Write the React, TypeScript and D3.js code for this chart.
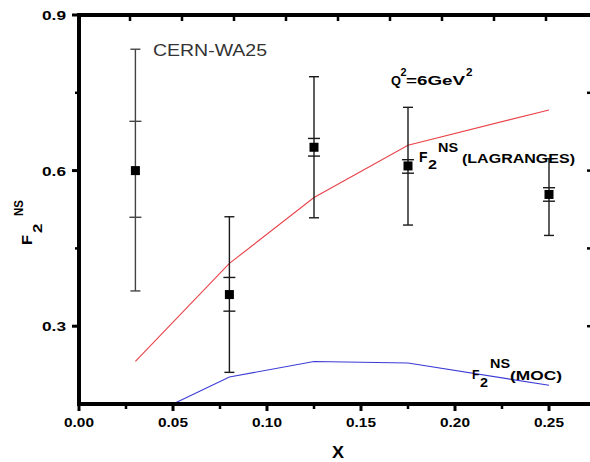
import React, { useEffect, useRef } from "react";
import * as d3 from "d3";

// measured points (CERN-WA25)
const xPoints = [0.03, 0.08, 0.125, 0.175, 0.25];
const f2Values = [0.6, 0.361, 0.645, 0.609, 0.554];
const innerHigh = [0.695, 0.394, 0.662, 0.621, 0.567];
const innerLow = [0.51, 0.329, 0.628, 0.595, 0.541];
const outerHigh = [0.834, 0.511, 0.781, 0.722, 0.623];
const outerLow = [0.368, 0.211, 0.509, 0.495, 0.475];

// model curves
const lagrangeX = [0.03, 0.08, 0.125, 0.175, 0.25];
const lagrangeValues = [0.232, 0.421, 0.548, 0.649, 0.717];
const mocX = [0.05, 0.08, 0.125, 0.175, 0.25];
const mocValues = [0.15, 0.202, 0.232, 0.229, 0.186];

// ticks
const xTickValues = [0, 0.05, 0.1, 0.15, 0.2, 0.25];
const xTickLabels = ["0.00", "0.05", "0.10", "0.15", "0.20", "0.25"];
const xMinorTicks = [0.025, 0.075, 0.125, 0.175, 0.225];
const yTickValues = [0.3, 0.6, 0.9];
const yTickLabels = ["0.3", "0.6", "0.9"];
const yMinorTicks = [0.45, 0.75];
const topTickValues = [0.025, 0.05, 0.075, 0.1, 0.125, 0.15, 0.175, 0.2, 0.225];
const rightTickValues = [0.3, 0.45, 0.6, 0.75, 0.9];

const FONT = "'Liberation Sans', Arial, sans-serif";

function App() {
  const svgRef = useRef(null);

  useEffect(() => {
    const width = 590;
    const height = 462;
    const svg = d3.select(svgRef.current).attr("width", width).attr("height", height);
    svg.selectAll("*").remove();

    svg.append("rect").attr("width", width).attr("height", height).attr("fill", "#fff");

    const x = d3.scaleLinear().domain([0, 0.25]).range([79, 549]);
    const y = d3.scaleLinear().domain([0.15, 0.9]).range([404, 15]);
    // the top frame's ticks sit on a slightly wider spacing in the original
    const xTop = d3.scaleLinear().domain([0, 0.25]).range([78, 598]);

    const g = svg.append("g");

    // Lines
    const line = d3
      .line()
      .x((d) => x(d[0]))
      .y((d) => y(d[1]));

    g.append("path")
      .datum(lagrangeX.map((v, i) => [v, lagrangeValues[i]]))
      .attr("d", line)
      .attr("fill", "none")
      .attr("stroke", "#e8434a")
      .attr("stroke-width", 1.1);

    g.append("path")
      .datum(mocX.map((v, i) => [v, mocValues[i]]))
      .attr("d", line)
      .attr("fill", "none")
      .attr("stroke", "#3b3bd6")
      .attr("stroke-width", 1.1);

    // Error bars
    const bars = g
      .selectAll("g.err")
      .data(xPoints.map((v, i) => ({ x: v, i })))
      .join("g")
      .attr("class", "err")
      .attr("stroke", (d) => (d.i === 0 ? "#444" : "#1a1a1a"))
      .attr("stroke-width", 1.4);

    bars
      .append("line")
      .attr("x1", (d) => x(d.x))
      .attr("x2", (d) => x(d.x))
      .attr("y1", (d) => y(outerLow[d.i]))
      .attr("y2", (d) => y(outerHigh[d.i]));

    const caps = [
      { arr: outerHigh, w: 5 },
      { arr: outerLow, w: 5 },
      { arr: innerHigh, w: 6 },
      { arr: innerLow, w: 6 },
    ];
    caps.forEach((c) => {
      bars
        .append("line")
        .attr("x1", (d) => x(d.x) - c.w)
        .attr("x2", (d) => x(d.x) + c.w)
        .attr("y1", (d) => y(c.arr[d.i]))
        .attr("y2", (d) => y(c.arr[d.i]));
    });

    // Squares
    g.selectAll("rect.pt")
      .data(xPoints.map((v, i) => [v, f2Values[i]]))
      .join("rect")
      .attr("class", "pt")
      .attr("x", (d) => x(d[0]) - 4.5)
      .attr("y", (d) => y(d[1]) - 4.5)
      .attr("width", 9)
      .attr("height", 9)
      .attr("fill", "#000");

    // Axes (frame + ticks)
    const axis = svg.append("g").attr("stroke", "#000");
    axis.append("line").attr("x1", 79).attr("x2", 79).attr("y1", 13).attr("y2", 406).attr("stroke-width", 4);
    axis.append("line").attr("x1", 77).attr("x2", 590).attr("y1", 404).attr("y2", 404).attr("stroke-width", 4);
    axis.append("line").attr("x1", 77).attr("x2", 590).attr("y1", 15).attr("y2", 15).attr("stroke-width", 4);

    axis.selectAll("line.ly").data(yTickValues).join("line")
      .attr("x1", 72).attr("x2", 79).attr("y1", (d) => y(d)).attr("y2", (d) => y(d)).attr("stroke-width", 3);
    axis.selectAll("line.lym").data(yMinorTicks).join("line")
      .attr("x1", 75).attr("x2", 79).attr("y1", (d) => y(d)).attr("y2", (d) => y(d)).attr("stroke-width", 2.5);
    axis.selectAll("line.bx").data(xTickValues).join("line")
      .attr("x1", (d) => x(d)).attr("x2", (d) => x(d)).attr("y1", 404).attr("y2", 411).attr("stroke-width", 3);
    axis.selectAll("line.bxm").data(xMinorTicks).join("line")
      .attr("x1", (d) => x(d)).attr("x2", (d) => x(d)).attr("y1", 404).attr("y2", 409).attr("stroke-width", 2.5);
    axis.selectAll("line.tx").data(topTickValues).join("line")
      .attr("x1", (d) => xTop(d)).attr("x2", (d) => xTop(d)).attr("y1", 15).attr("y2", 21).attr("stroke-width", 2.5);
    axis.selectAll("line.ry").data(rightTickValues).join("line")
      .attr("x1", 587).attr("x2", 592).attr("y1", (d) => y(d)).attr("y2", (d) => y(d)).attr("stroke-width", 2.5);

    // Tick labels
    svg.selectAll("text.xl").data(xTickValues).join("text")
      .attr("x", (d) => x(d)).attr("y", 427)
      .attr("text-anchor", "middle")
      .attr("font-family", FONT).attr("font-weight", "bold").attr("font-size", 13.5)
      .attr("textLength", 30).attr("lengthAdjust", "spacingAndGlyphs")
      .text((d, i) => xTickLabels[i]);

    svg.selectAll("text.yl").data(yTickValues).join("text")
      .attr("x", 66).attr("y", (d) => y(d) + 5)
      .attr("text-anchor", "end")
      .attr("font-family", FONT).attr("font-weight", "bold").attr("font-size", 13.5)
      .attr("textLength", 24).attr("lengthAdjust", "spacingAndGlyphs")
      .text((d, i) => yTickLabels[i]);

    // Text pieces (sub/superscripts as separate pieces)
    const piece = (parent, t, px, py, size, len, weight = "bold", fill = "#000") =>
      parent.append("text")
        .attr("x", px).attr("y", py)
        .attr("font-family", FONT).attr("font-weight", weight).attr("font-size", size)
        .attr("fill", fill)
        .attr("textLength", len).attr("lengthAdjust", "spacingAndGlyphs")
        .text(t);

    piece(svg, "CERN-WA25", 153, 56, 16.5, 114, "normal", "#333");

    piece(svg, "Q", 391, 85, 13, 10);
    piece(svg, "2", 400.5, 76, 11, 6);
    piece(svg, "=6GeV", 406, 85, 13, 59);
    piece(svg, "2", 466, 76, 11, 6.5);

    piece(svg, "F", 419, 162, 14, 8.5);
    piece(svg, "2", 428, 169, 13, 9);
    piece(svg, "NS", 438, 152, 12, 20);
    piece(svg, "(LAGRANGES)", 462, 163, 13.5, 113);

    piece(svg, "F", 472, 379, 13, 7.5);
    piece(svg, "2", 480, 387, 12, 8);
    piece(svg, "NS", 490, 368, 12, 20);
    piece(svg, "(MOC)", 510, 380, 13, 52);

    piece(svg, "X", 332, 458, 17, 12);

    const yl = svg.append("g").attr("transform", "rotate(-90)");
    piece(yl, "F", -245, 32, 14, 10);
    piece(yl, "2", -233, 42, 12.5, 9.5);
    piece(yl, "NS", -216, 23, 12.5, 16);
  }, []);

  return <svg ref={svgRef} style={{ position: "absolute", left: 0, top: 0 }}></svg>;
}

export default App;
